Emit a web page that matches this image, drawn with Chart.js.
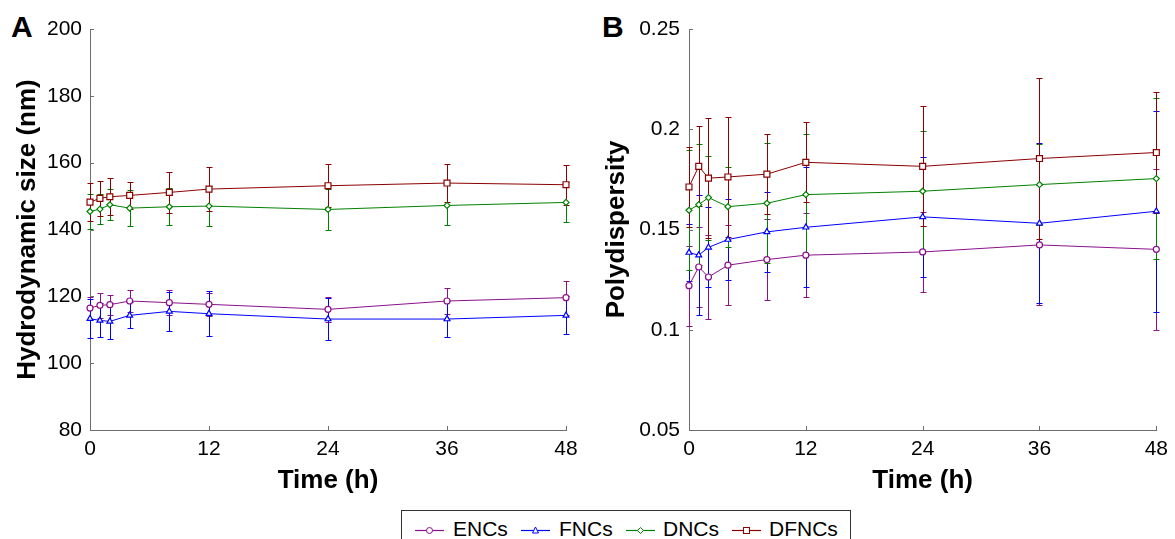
<!DOCTYPE html>
<html>
<head>
<meta charset="utf-8">
<title>Hydrodynamic size and polydispersity over time</title>
<script src="https://cdn.jsdelivr.net/npm/chart.js@4.4.1/dist/chart.umd.min.js"></script>
<style>
  html, body { margin: 0; padding: 0; background: #fff; }
  body { width: 1175px; height: 539px; position: relative; overflow: hidden;
         font-family: 'Liberation Sans', Arial, sans-serif; color: #000; }
  #panelA { position: absolute; left: 0; top: 0; }
  #panelB { position: absolute; left: 590px; top: 0; }
  .panel-tag { position: absolute; top: 12px; font-size: 30px; line-height: 30px; font-weight: bold; }
  #legendBox { position: absolute; left: 401px; top: 510px; width: 450px; height: 40px;
               border: 1px solid #333; box-sizing: border-box; }
  .leg-sym { position: absolute; top: 10px; }
  .leg-txt { position: absolute; top: 6px; font-size: 21px; line-height: 24px; }
</style>
</head>
<body>
<div class="panel-tag" style="left:11px">A</div>
<div class="panel-tag" style="left:602px">B</div>
<canvas id="panelA" width="590" height="505"></canvas>
<canvas id="panelB" width="585" height="505"></canvas>
<div id="legendBox"></div>

<script>
// Sampling times (h)
var timeHours = [0, 1, 2, 4, 8, 12, 24, 36, 48];
var timeTicks = [0, 12, 24, 36, 48];

var seriesNames = ['ENCs', 'FNCs', 'DNCs', 'DFNCs'];
var seriesColors = ['#8b108b', '#0000ff', '#008000', '#8b0000'];
var seriesMarkers = ['circle', 'triangle', 'rectRot', 'rect'];

// Panel A: hydrodynamic size (nm), mean and SD
var sizeTicks = [80, 100, 120, 140, 160, 180, 200];
var sizeENCs = [116.5, 117.3, 117.5, 118.6, 118.1, 117.6, 116.1, 118.6, 119.6];
var sizeENCsErr = [3.3, 3.7, 3.0, 3.4, 3.7, 3.5, 3.8, 4.0, 5.1];
var sizeFNCs = [113.3, 112.8, 112.5, 114.3, 115.5, 114.8, 113.2, 113.2, 114.3];
var sizeFNCsErr = [5.8, 5.1, 5.4, 3.9, 5.9, 6.7, 6.3, 5.5, 5.7];
var sizeDNCs = [145.4, 146.1, 147.4, 146.4, 146.8, 147.0, 146.0, 147.2, 148.1];
var sizeDNCsErr = [5.2, 4.5, 4.7, 5.3, 5.5, 6.0, 6.0, 6.0, 6.0];
var sizeDFNCs = [148.2, 149.3, 149.8, 150.2, 151.1, 152.1, 153.1, 153.9, 153.4];
var sizeDFNCsErr = [5.8, 5.3, 5.5, 4.0, 6.2, 6.5, 6.5, 5.8, 6.0];

// Panel B: polydispersity index, mean and SD
var pdiTicks = [0.05, 0.1, 0.15, 0.2, 0.25];
var pdiENCs = [0.122, 0.1313, 0.1263, 0.1322, 0.135, 0.1372, 0.1388, 0.1423, 0.1401];
var pdiENCsErr = [0.020, 0.020, 0.021, 0.020, 0.020, 0.021, 0.020, 0.030, 0.040];
var pdiFNCs = [0.1385, 0.1372, 0.1411, 0.1450, 0.1488, 0.1511, 0.1563, 0.1531, 0.1591];
var pdiFNCsErr = [0.014, 0.030, 0.020, 0.020, 0.020, 0.030, 0.030, 0.040, 0.050];
var pdiDNCs = [0.1596, 0.1624, 0.1659, 0.1614, 0.1631, 0.1674, 0.1691, 0.1724, 0.1754];
var pdiDNCsErr = [0.030, 0.030, 0.021, 0.020, 0.030, 0.030, 0.030, 0.020, 0.040];
var pdiDFNCs = [0.1712, 0.1815, 0.1756, 0.1762, 0.1776, 0.1835, 0.1815, 0.1854, 0.1884];
var pdiDFNCsErr = [0.020, 0.020, 0.030, 0.030, 0.020, 0.020, 0.030, 0.040, 0.030];

(function () {
  'use strict';

  var AXIS_COLOR = '#6e6e6e';
  var FONT = "'Liberation Sans', Arial, sans-serif";
  Chart.defaults.font.family = FONT;
  Chart.defaults.color = '#000';

  // Vertical SD whiskers with small caps, drawn under the lines/markers.
  var errorBarPlugin = {
    id: 'errorBars',
    beforeDatasetsDraw: function (chart) {
      var ctx = chart.ctx;
      var xs = chart.scales.x;
      var ys = chart.scales.y;
      chart.data.datasets.forEach(function (ds) {
        if (!ds.errors) return;
        ctx.save();
        ctx.strokeStyle = ds.borderColor;
        ctx.lineWidth = 1;
        ds.data.forEach(function (pt, j) {
          var e = ds.errors[j];
          var px = Math.round(xs.getPixelForValue(pt.x)) + 0.5;
          var top = Math.round(ys.getPixelForValue(pt.y + e)) + 0.5;
          var bot = Math.round(ys.getPixelForValue(pt.y - e)) + 0.5;
          ctx.beginPath();
          ctx.moveTo(px, top); ctx.lineTo(px, bot);
          ctx.moveTo(px - 3, top); ctx.lineTo(px + 3, top);
          ctx.moveTo(px - 3, bot); ctx.lineTo(px + 3, bot);
          ctx.stroke();
        });
        ctx.restore();
      });
    }
  };

  // Tick marks point into the plot area, as in the original figure.
  var inwardTicksPlugin = {
    id: 'inwardTicks',
    afterDraw: function (chart) {
      var ctx = chart.ctx;
      var xs = chart.scales.x;
      var ys = chart.scales.y;
      ctx.save();
      ctx.strokeStyle = AXIS_COLOR;
      ctx.lineWidth = 1;
      ctx.beginPath();
      xs.ticks.forEach(function (t) {
        var px = Math.round(xs.getPixelForValue(t.value)) + 0.5;
        ctx.moveTo(px, ys.bottom); ctx.lineTo(px, ys.bottom - 4);
      });
      ys.ticks.forEach(function (t) {
        var py = Math.round(ys.getPixelForValue(t.value)) + 0.5;
        ctx.moveTo(xs.left, py); ctx.lineTo(xs.left + 4, py);
      });
      ctx.stroke();
      ctx.restore();
    }
  };

  function _toPoints(values) {
    return values.map(function (v, i) { return { x: timeHours[i], y: v }; });
  }

  function _datasets(means, errs) {
    return means.map(function (m, i) {
      return {
        label: seriesNames[i],
        data: _toPoints(m),
        errors: errs[i],
        borderColor: seriesColors[i],
        backgroundColor: seriesColors[i],
        borderWidth: 1,
        tension: 0,
        pointStyle: seriesMarkers[i],
        pointRadius: [3, 3.4, 3, 4.2][i],
        pointBorderWidth: 1.2,
        pointBackgroundColor: '#fff',
        pointBorderColor: seriesColors[i],
        clip: false
      };
    });
  }

  function _fixedTicks(values) {
    return function (scale) {
      scale.ticks = values.map(function (v) { return { value: v }; });
    };
  }

  // 0.20 -> "0.2", 150 -> "150"
  function _plainNumber(v) {
    return String(+Number(v).toFixed(3));
  }

  function _drawPanel(canvasId, opts) {
    var canvas = document.getElementById(canvasId);
    return new Chart(canvas.getContext('2d'), {
      type: 'line',
      data: { datasets: _datasets(opts.means, opts.errs) },
      options: {
        responsive: false,
        animation: false,
        layout: { padding: { top: 29, right: opts.padRight, bottom: 0, left: 0 } },
        plugins: { legend: { display: false }, tooltip: { enabled: false } },
        scales: {
          x: {
            type: 'linear',
            min: 0, max: 48,
            afterBuildTicks: _fixedTicks(timeTicks),
            afterFit: function (s) { s.height = 75; },
            grid: { display: false, drawTicks: false },
            border: { display: true, color: AXIS_COLOR, width: 1 },
            ticks: { font: { size: 21 }, padding: 7, maxRotation: 0, callback: _plainNumber },
            title: {
              display: true, text: 'Time (h)',
              font: { size: 26, weight: 'bold' },
              padding: { top: 0, bottom: 9 }
            }
          },
          y: {
            type: 'linear',
            min: opts.yMin, max: opts.yMax,
            afterBuildTicks: _fixedTicks(opts.yTicks),
            afterFit: function (s) { s.width = opts.axisWidth; },
            grid: { display: false, drawTicks: false },
            border: { display: true, color: AXIS_COLOR, width: 1 },
            ticks: { font: { size: 21 }, padding: opts.labelPad, callback: _plainNumber },
            title: {
              display: true, text: opts.yTitle,
              font: { size: 26, weight: 'bold' },
              padding: { top: opts.titlePad, bottom: 0 }
            }
          }
        }
      },
      plugins: [errorBarPlugin, inwardTicksPlugin]
    });
  }

  _drawPanel('panelA', {
    means: [sizeENCs, sizeFNCs, sizeDNCs, sizeDFNCs],
    errs: [sizeENCsErr, sizeFNCsErr, sizeDNCsErr, sizeDFNCsErr],
    yMin: 80, yMax: 200, yTicks: sizeTicks,
    yTitle: 'Hydrodynamic size (nm)',
    axisWidth: 90, labelPad: 8, titlePad: 12, padRight: 24
  });

  _drawPanel('panelB', {
    means: [pdiENCs, pdiFNCs, pdiDNCs, pdiDFNCs],
    errs: [pdiENCsErr, pdiFNCsErr, pdiDNCsErr, pdiDFNCsErr],
    yMin: 0.05, yMax: 0.25, yTicks: pdiTicks,
    yTitle: 'Polydispersity',
    axisWidth: 99, labelPad: 9, titlePad: 11, padRight: 12
  });

  // Shared legend under both panels
  var SYMBOL_LEFT = [13, 119, 224, 330];
  var TEXT_LEFT = [51, 157, 261, 367];
  var box = document.getElementById('legendBox');
  seriesNames.forEach(function (name, i) {
    var c = seriesColors[i];
    var marker;
    if (seriesMarkers[i] === 'circle') {
      marker = '<circle cx="14.5" cy="9.5" r="3" fill="#fff" stroke="' + c + '"/>';
    } else if (seriesMarkers[i] === 'triangle') {
      marker = '<polygon points="14.5,6 17.5,12 11.5,12" fill="#fff" stroke="' + c + '"/>';
    } else if (seriesMarkers[i] === 'rectRot') {
      marker = '<polygon points="14.5,6.5 17.5,9.5 14.5,12.5 11.5,9.5" fill="#fff" stroke="' + c + '"/>';
    } else {
      marker = '<rect x="11.5" y="6.5" width="6" height="6" fill="#fff" stroke="' + c + '"/>';
    }
    var sym = document.createElement('div');
    sym.className = 'leg-sym';
    sym.style.left = SYMBOL_LEFT[i] + 'px';
    sym.innerHTML = '<svg width="29" height="19"><line x1="0" y1="9.5" x2="29" y2="9.5" stroke="' + c +
      '" stroke-width="1.2"/>' + marker + '</svg>';
    var txt = document.createElement('div');
    txt.className = 'leg-txt';
    txt.style.left = TEXT_LEFT[i] + 'px';
    txt.textContent = name;
    box.appendChild(sym);
    box.appendChild(txt);
  });
})();
</script>
</body>
</html>
